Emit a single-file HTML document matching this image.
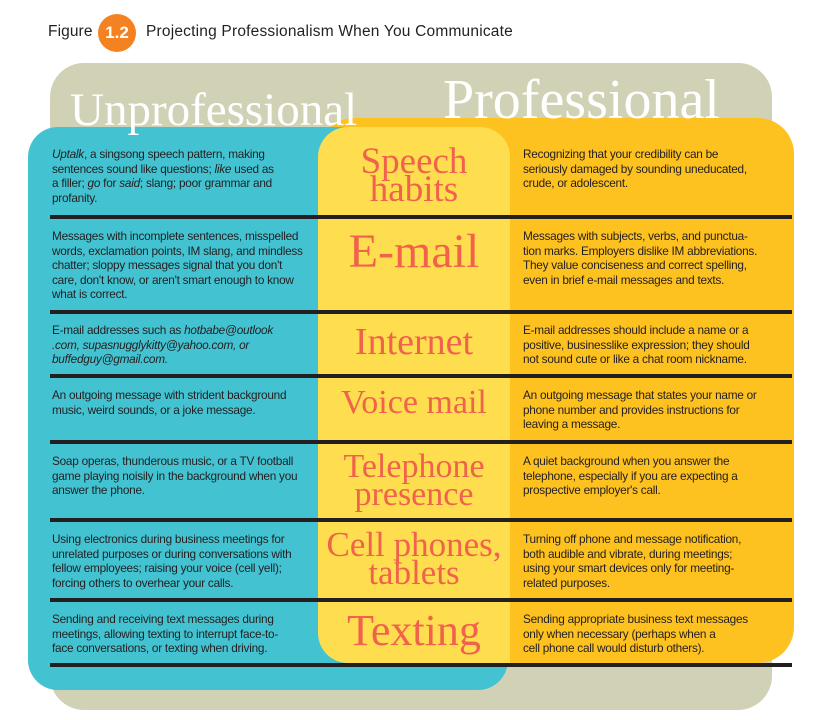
<!DOCTYPE html>
<html><head><meta charset="utf-8">
<style>
body{margin:0;width:816px;height:720px;background:#fff;position:relative;overflow:hidden;font-family:"Liberation Sans",sans-serif}
.a{position:absolute}
.t{position:absolute;font-size:11.8px;line-height:14.6px;color:#231f20;letter-spacing:-0.25px;white-space:nowrap}
.l{left:52px}.r{left:523px}
.c{position:absolute;left:318px;width:192px;text-align:center;font-family:"Liberation Serif",serif;color:#f0624b;line-height:28px;white-space:nowrap}
.line{position:absolute;left:50px;width:742px;height:4px;background:#231f20}
</style></head><body>
<div class="a" style="left:48px;top:23px;font-size:15.5px;color:#231f20;letter-spacing:0.1px">Figure</div>
<div class="a" style="left:98px;top:14px;width:38px;height:38px;border-radius:50%;background:#f58220;color:#fff;font-size:17px;font-weight:bold;text-align:center;line-height:38px">1.2</div>
<div class="a" style="left:146px;top:23px;font-size:15.5px;color:#231f20;letter-spacing:0.2px">Projecting Professionalism When You Communicate</div>

<div class="a" style="left:50px;top:63px;width:722px;height:647px;background:#d1d2b5;border-radius:34px"></div>
<div class="a" style="left:318px;top:118px;width:476px;height:545px;background:#fdc120;border-radius:36px"></div>
<div class="a" style="left:28px;top:127px;width:480px;height:563px;background:#43c3d1;border-radius:30px"></div>
<div class="a" style="left:318px;top:127px;width:192px;height:536px;background:#fede4f;border-radius:30px 30px 0 30px"></div>

<div class="a" style="left:70px;top:80px;font-family:'Liberation Serif',serif;font-size:47px;color:#fff;line-height:60px">Unprofessional</div>
<div class="a" style="left:443px;top:68px;font-family:'Liberation Serif',serif;font-size:56px;color:#fff;line-height:64px">Professional</div>

<div class="line" style="top:215px"></div>
<div class="line" style="top:310px"></div>
<div class="line" style="top:374px"></div>
<div class="line" style="top:440px"></div>
<div class="line" style="top:518px"></div>
<div class="line" style="top:598px"></div>
<div class="line" style="top:663px"></div>

<div class="t l" style="top:147px"><i>Uptalk</i>, a singsong speech pattern, making<br>sentences sound like questions; <i>like</i> used as<br>a filler; <i>go</i> for <i>said</i>; slang; poor grammar and<br>profanity.</div>
<div class="c" style="top:148px;font-size:37px">Speech<br>habits</div>
<div class="t r" style="top:147px">Recognizing that your credibility can be<br>seriously damaged by sounding uneducated,<br>crude, or adolescent.</div>

<div class="t l" style="top:229px">Messages with incomplete sentences, misspelled<br>words, exclamation points, IM slang, and mindless<br>chatter; sloppy messages signal that you don't<br>care, don't know, or aren't smart enough to know<br>what is correct.</div>
<div class="c" style="top:232px;font-size:48px;line-height:40px">E-mail</div>
<div class="t r" style="top:229px">Messages with subjects, verbs, and punctua-<br>tion marks. Employers dislike IM abbreviations.<br>They value conciseness and correct spelling,<br>even in brief e-mail messages and texts.</div>

<div class="t l" style="top:323px">E-mail addresses such as <i>hotbabe@outlook</i><br><i>.com, supasnugglykitty@yahoo.com, or</i><br><i>buffedguy@gmail.com.</i></div>
<div class="c" style="top:326px;font-size:38px;line-height:32px">Internet</div>
<div class="t r" style="top:323px">E-mail addresses should include a name or a<br>positive, businesslike expression; they should<br>not sound cute or like a chat room nickname.</div>

<div class="t l" style="top:388px">An outgoing message with strident background<br>music, weird sounds, or a joke message.</div>
<div class="c" style="top:388px;font-size:34px;line-height:30px">Voice mail</div>
<div class="t r" style="top:388px">An outgoing message that states your name or<br>phone number and provides instructions for<br>leaving a message.</div>

<div class="t l" style="top:454px">Soap operas, thunderous music, or a TV football<br>game playing noisily in the background when you<br>answer the phone.</div>
<div class="c" style="top:453px;font-size:34px">Telephone<br>presence</div>
<div class="t r" style="top:454px">A quiet background when you answer the<br>telephone, especially if you are expecting a<br>prospective employer's call.</div>

<div class="t l" style="top:532px">Using electronics during business meetings for<br>unrelated purposes or during conversations with<br>fellow employees; raising your voice (cell yell);<br>forcing others to overhear your calls.</div>
<div class="c" style="top:531px;font-size:35px;margin-left:-4px;width:200px">Cell phones,<br>tablets</div>
<div class="t r" style="top:532px">Turning off phone and message notification,<br>both audible and vibrate, during meetings;<br>using your smart devices only for meeting-<br>related purposes.</div>

<div class="t l" style="top:612px">Sending and receiving text messages during<br>meetings, allowing texting to interrupt face-to-<br>face conversations, or texting when driving.</div>
<div class="c" style="top:612px;font-size:44px;line-height:38px">Texting</div>
<div class="t r" style="top:612px">Sending appropriate business text messages<br>only when necessary (perhaps when a<br>cell phone call would disturb others).</div>
</body></html>
